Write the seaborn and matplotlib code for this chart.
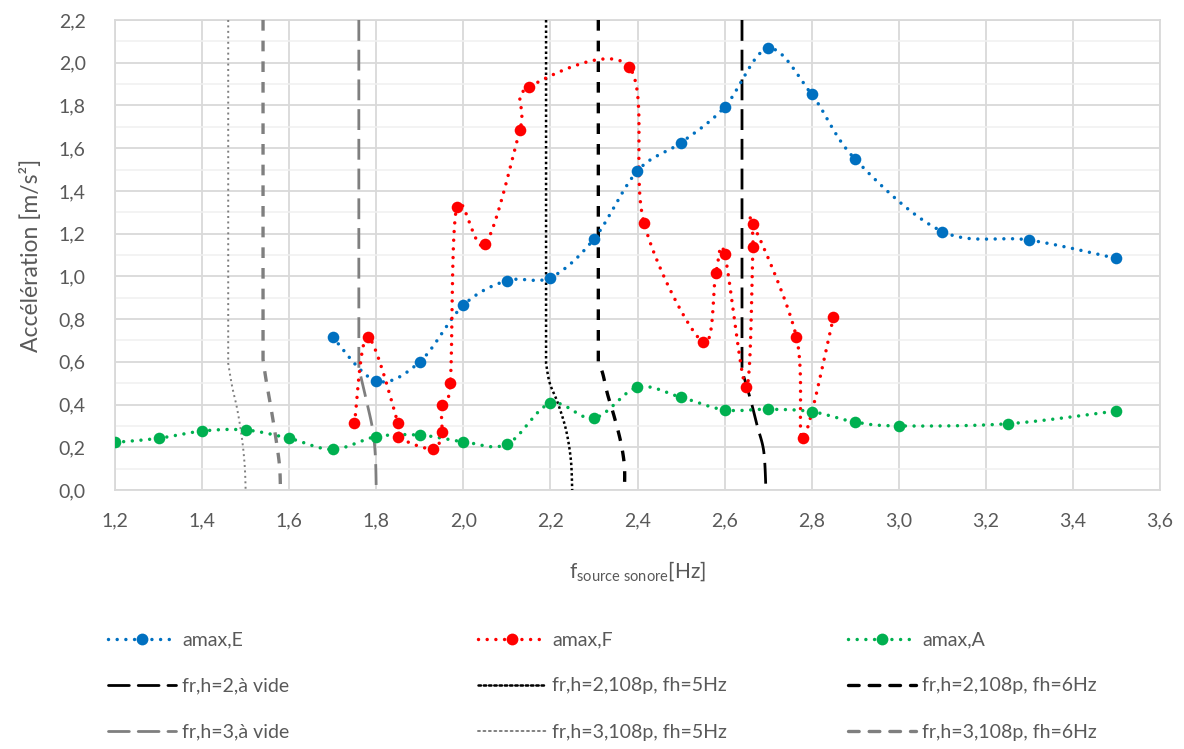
import numpy as np
import seaborn as sns
import matplotlib.pyplot as plt
from matplotlib.lines import Line2D
from matplotlib.ticker import MultipleLocator, FuncFormatter

# amax,E
e_freq = [1.7, 1.8, 1.9, 2.0, 2.1, 2.2, 2.3, 2.4, 2.5, 2.6, 2.7, 2.8, 2.9, 3.1, 3.3, 3.5]
e_acc = [0.715, 0.51, 0.60, 0.865, 0.98, 0.994, 1.175, 1.494, 1.626, 1.792, 2.067, 1.852, 1.548, 1.21, 1.17, 1.084]

# amax,F (order of measurement)
f_freq = [1.75, 1.78, 1.85, 1.85, 1.93, 1.95, 1.95, 1.97, 1.985, 2.05, 2.13, 2.15,
          2.38, 2.415, 2.55, 2.58, 2.60, 2.65, 2.665, 2.665, 2.765, 2.78, 2.85]
f_acc = [0.312, 0.717, 0.312, 0.249, 0.192, 0.273, 0.40, 0.502, 1.324, 1.15, 1.686, 1.885,
         1.982, 1.25, 0.692, 1.016, 1.106, 0.48, 1.137, 1.246, 0.716, 0.242, 0.809]

# amax,A
a_freq = [1.2, 1.3, 1.4, 1.5, 1.6, 1.7, 1.8, 1.9, 2.0, 2.1, 2.2, 2.3, 2.4, 2.5, 2.6,
          2.7, 2.8, 2.9, 3.0, 3.25, 3.5]
a_acc = [0.223, 0.242, 0.276, 0.281, 0.242, 0.19, 0.25, 0.257, 0.226, 0.214, 0.406,
         0.336, 0.481, 0.434, 0.375, 0.378, 0.367, 0.318, 0.30, 0.31, 0.37]

# natural frequencies vs acceleration
h2_vide_x = [2.64, 2.64, 2.66, 2.675, 2.69, 2.695]
h2_vide_y = [2.2, 0.56, 0.42, 0.30, 0.18, 0.0]
h2_5_x = [2.19, 2.19, 2.1985, 2.217, 2.236, 2.247, 2.25]
h2_5_y = [2.2, 0.593, 0.50, 0.407, 0.28, 0.14, 0.0]
h2_6_x = [2.31, 2.31, 2.32, 2.331, 2.347, 2.362, 2.37, 2.37]
h2_6_y = [2.2, 0.60, 0.546, 0.45, 0.34, 0.22, 0.11, 0.0]
h3_vide_x = [1.76, 1.76, 1.779, 1.792, 1.798, 1.80]
h3_vide_y = [2.2, 0.57, 0.405, 0.28, 0.156, 0.0]
h3_5_x = [1.46, 1.46, 1.469, 1.481, 1.492, 1.498, 1.50]
h3_5_y = [2.2, 0.593, 0.485, 0.375, 0.235, 0.11, 0.0]
h3_6_x = [1.54, 1.54, 1.547, 1.559, 1.57, 1.578, 1.58]
h3_6_y = [2.2, 0.61, 0.515, 0.375, 0.235, 0.11, 0.0]


def smooth(xs, ys, n=30):
    # bezier smoothing like a spreadsheet "smoothed line"
    P = np.column_stack([xs, ys]).astype(float)
    P = np.vstack([P[0], P, P[-1]])
    t = np.linspace(0, 1, n)[:, None]
    out = []
    for i in range(1, len(P) - 2):
        p0, p1, p2, p3 = P[i - 1], P[i], P[i + 1], P[i + 2]
        c1 = p1 + (p2 - p0) / 6
        c2 = p2 - (p3 - p1) / 6
        seg = (1 - t) ** 3 * p1 + 3 * (1 - t) ** 2 * t * c1 + 3 * (1 - t) * t ** 2 * c2 + t ** 3 * p2
        out.append(seg if i == 1 else seg[1:])
    s = np.vstack(out)
    return s[:, 0], s[:, 1]


sns.set_theme(style='white')
plt.rcParams['font.family'] = ['Lato', 'DejaVu Sans']
plt.rcParams['mathtext.fontset'] = 'custom'
plt.rcParams['mathtext.rm'] = 'Lato'
plt.rcParams['mathtext.it'] = 'Lato'

txt = '#595959'
grid = '#D9D9D9'
blue, red, green = '#0070C0', '#FF0000', '#00B050'
gray = '#7F7F7F'

dot = (0, (0.001, 2.5))
long_dash = (0, (7.5, 3.2))
short_dash = (0, (3.2, 3.0))
fine_dot = (0, (1, 1.1))
thin_dot = (0, (1, 1.8))

fig = plt.figure(figsize=(11.84, 7.49), dpi=100)
ax = fig.add_axes([115 / 1184, 1 - 490 / 749, 1045 / 1184, 470 / 749])

series = [(e_freq, e_acc, blue), (f_freq, f_acc, red), (a_freq, a_acc, green)]
for xs, ys, c in series:
    sx, sy = smooth(xs, ys)
    sns.lineplot(x=sx, y=sy, sort=False, estimator=None, color=c, lw=2.5,
                 linestyle=dot, dash_capstyle='round', ax=ax, zorder=4)
    sns.scatterplot(x=xs, y=ys, color=c, s=70, edgecolor=c, linewidth=0, ax=ax, zorder=5)

verticals = [
    (h2_vide_x, h2_vide_y, 'black', long_dash, 2.0),
    (h2_5_x, h2_5_y, 'black', fine_dot, 1.8),
    (h2_6_x, h2_6_y, 'black', short_dash, 2.4),
    (h3_vide_x, h3_vide_y, gray, long_dash, 2.0),
    (h3_5_x, h3_5_y, gray, thin_dot, 1.4),
    (h3_6_x, h3_6_y, gray, short_dash, 2.4),
]
for xs, ys, c, ls, lw in verticals:
    # straight upper part, smoothed lower part
    sx, sy = smooth(xs[1:], ys[1:], n=15)
    sx = np.concatenate([[xs[0]], sx])
    sy = np.concatenate([[ys[0]], sy])
    sns.lineplot(x=sx, y=sy, sort=False, estimator=None, color=c, lw=lw,
                 linestyle=ls, ax=ax, zorder=3)

ax.set_xlim(1.2, 3.6)
ax.set_ylim(0, 2.2)
ax.xaxis.set_major_locator(MultipleLocator(0.2))
ax.yaxis.set_major_locator(MultipleLocator(0.2))
ax.yaxis.set_minor_locator(MultipleLocator(0.1))
fmt = FuncFormatter(lambda v, p: f'{v:.1f}'.replace('.', ','))
ax.xaxis.set_major_formatter(fmt)
ax.yaxis.set_major_formatter(fmt)
ax.grid(True, which='major', color=grid, lw=1.3, zorder=0)
ax.grid(True, which='minor', axis='y', color='#F0F0F0', lw=1.1, zorder=0)
ax.set_axisbelow(True)
for s in ax.spines.values():
    s.set_color(grid)
    s.set_linewidth(1.3)
ax.tick_params(axis='both', which='both', length=0, colors=txt, labelsize=14)
ax.tick_params(axis='y', pad=21)
ax.tick_params(axis='x', pad=16)

ax.set_xlabel(r'f$_{\mathrm{source\ sonore}}$[Hz]', fontsize=15, color=txt, labelpad=22)
ax.set_ylabel('Accélération [m/s²]', fontsize=16.5, color=txt, labelpad=12)

def handle(c, ls, lw, marker=None):
    return Line2D([], [], color=c, lw=lw, linestyle=ls, dash_capstyle='round',
                  marker=marker, markersize=8.5, markeredgewidth=0)

cols = [
    ([handle(blue, dot, 2.5, 'o'), handle('black', long_dash, 2.0), handle(gray, long_dash, 2.0)],
     ['amax,E', 'fr,h=2,à vide', 'fr,h=3,à vide'], 108),
    ([handle(red, dot, 2.5, 'o'), handle('black', fine_dot, 1.8), handle(gray, thin_dot, 1.4)],
     ['amax,F', 'fr,h=2,108p, fh=5Hz', 'fr,h=3,108p, fh=5Hz'], 478),
    ([handle(green, dot, 2.5, 'o'), handle('black', short_dash, 2.4), handle(gray, short_dash, 2.4)],
     ['amax,A', 'fr,h=2,108p, fh=6Hz', 'fr,h=3,108p, fh=6Hz'], 848),
]
for hs, labels, x0 in cols:
    fig.legend(hs, labels, loc='center left', bbox_to_anchor=(x0 / 1184, 1 - 686 / 749),
               frameon=False, fontsize=14, labelcolor=txt, handlelength=3.5,
               handletextpad=0.3, labelspacing=1.5, borderpad=0, borderaxespad=0)

fig.savefig('out.png', dpi=100)
